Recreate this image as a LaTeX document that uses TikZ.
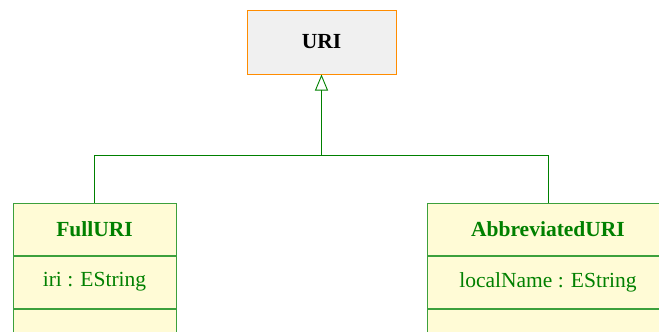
\documentclass[tikz,border=0pt]{standalone}
\usepackage{fontspec}
\setmainfont{Liberation Serif}
\usetikzlibrary{arrows.meta}
\definecolor{umlgreen}{RGB}{0,128,0}
\definecolor{boxgreen}{RGB}{60,160,60}
\definecolor{umlfill}{RGB}{255,251,214}
\definecolor{urifill}{RGB}{240,240,240}
\definecolor{uriorange}{RGB}{255,140,0}
\tikzset{
  classpart/.style={draw=boxgreen, fill=umlfill, line width=1pt, minimum width=163pt, minimum height=52pt, inner sep=0pt, text=umlgreen, font=\fontsize{21.5}{25}\selectfont},
  classtitle/.style={classpart, font=\fontsize{21.5}{25}\selectfont\bfseries},
  abstractbox/.style={draw=uriorange, fill=urifill, line width=1pt, minimum width=149pt, minimum height=64pt, inner sep=0pt, font=\fontsize{21.5}{25}\selectfont\bfseries},
  genline/.style={draw=umlgreen, line width=0.9pt},
}
\begin{document}
\begin{tikzpicture}[x=1pt,y=-1pt]
\useasboundingbox (0,0) rectangle (659,332);
\clip (0,0) rectangle (659,332);
\node[abstractbox] (uri) at (321.5,42) {URI};
\node[classtitle] (full) at (94.5,229) {FullURI};
\node[classpart, anchor=north] (fullattr) at (full.south) {iri : EString};
\node[classpart, anchor=north] (fullops) at (fullattr.south) {};
\node[classtitle, minimum width=242pt] (abbr) at (548,229) {AbbreviatedURI};
\node[classpart, minimum width=242pt, anchor=north] (abbrattr) at (abbr.south) {localName : EString};
\node[classpart, minimum width=242pt, anchor=north] (abbrops) at (abbrattr.south) {};
\coordinate (j) at (321.5,155);
\draw[genline] (full.north) |- (j);
\draw[genline] (abbr.north) |- (j);
\draw[genline, -{Triangle[open, width=13pt, length=16pt]}] (j) -- (uri.south);
\end{tikzpicture}
\end{document}
